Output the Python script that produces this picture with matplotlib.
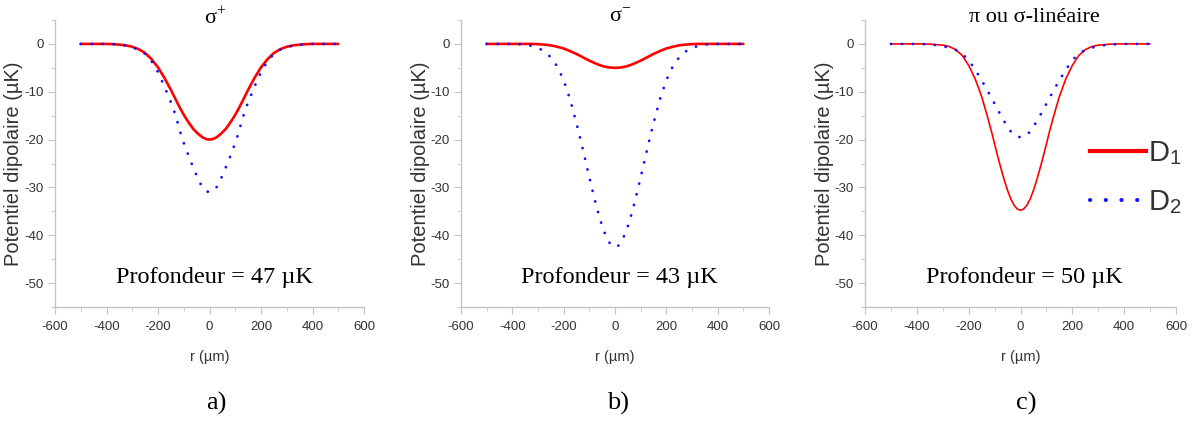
import numpy as np
import matplotlib.pyplot as plt
from matplotlib.lines import Line2D

plt.rcParams['font.family'] = ['Liberation Sans', 'DejaVu Sans']
plt.rcParams['mathtext.fontset'] = 'stix'
plt.rcParams['axes.unicode_minus'] = False

#%%
# Data (r in um, potential in uK)
# finer sampling near the bottom of the wells

r = [-500, -475, -450, -425, -400, -375, -350, -325, -300, -275, -250, -225, -200, -175,
     -150, -137.5, -125, -112.5, -100, -87.5, -75, -62.5, -50, -37.5, -25, -12.5,
     0,
     12.5, 25, 37.5, 50, 62.5, 75, 87.5, 100, 112.5, 125, 137.5, 150,
     175, 200, 225, 250, 275, 300, 325, 350, 375, 400, 425, 450, 475, 500]

# a) sigma+
a_D1 = [0, 0, 0, 0, 0, -0.05, -0.15, -0.3, -0.6, -1.1, -1.9, -3.2, -4.9, -7.1,
        -9.6, -10.95, -12.3, -13.6, -14.8, -15.9, -16.9, -17.8, -18.5, -19.1, -19.6, -19.9,
        -20.0,
        -19.9, -19.6, -19.1, -18.5, -17.8, -16.9, -15.9, -14.8, -13.6, -12.3, -10.95, -9.6,
        -7.1, -4.9, -3.2, -1.9, -1.1, -0.6, -0.3, -0.15, -0.05, 0, 0, 0, 0, 0]
a_D2 = [0, 0, 0, 0, 0, -0.05, -0.15, -0.35, -0.7, -1.2, -2.1, -3.6, -5.9, -8.9,
        -12.2, -14.0, -16.2, -18.6, -20.7, -22.5, -24.3, -25.9, -27.5, -29.0, -30.2, -30.8,
        -31.0,
        -30.8, -30.2, -29.0, -27.5, -25.9, -24.3, -22.5, -20.7, -18.6, -16.2, -14.0, -12.2,
        -8.9, -5.9, -3.6, -2.1, -1.2, -0.7, -0.35, -0.15, -0.05, 0, 0, 0, 0, 0]

# b) sigma-
b_D1 = [0, 0, 0, 0, 0, 0, 0, 0, -0.05, -0.15, -0.3, -0.6, -0.95, -1.5,
        -2.1, -2.45, -2.8, -3.15, -3.5, -3.8, -4.1, -4.37, -4.6, -4.77, -4.9, -4.97,
        -5.0,
        -4.97, -4.9, -4.77, -4.6, -4.37, -4.1, -3.8, -3.5, -3.15, -2.8, -2.45, -2.1,
        -1.5, -0.95, -0.6, -0.3, -0.15, -0.05, 0, 0, 0, 0, 0, 0, 0, 0]
b_D2 = [0, 0, 0, 0, 0, -0.05, -0.15, -0.4, -0.8, -1.6, -2.8, -4.7, -7.6, -11.6,
        -16.6, -19.3, -22.1, -25.0, -27.9, -30.7, -33.4, -35.9, -38.1, -39.9, -41.3, -42.2,
        -42.5,
        -42.2, -41.3, -39.9, -38.1, -35.9, -33.4, -30.7, -27.9, -25.0, -22.1, -19.3, -16.6,
        -11.6, -7.6, -4.7, -2.8, -1.6, -0.8, -0.4, -0.15, -0.05, 0, 0, 0, 0, 0]

# c) pi / sigma-lineaire
c_D1 = [0, 0, 0, 0, 0, 0, -0.05, -0.15, -0.25, -0.55, -1.2, -2.4, -4.5, -7.3,
        -11.0, -13.3, -15.7, -18.2, -20.9, -23.6, -26.1, -28.5, -30.6, -32.4, -33.7, -34.5,
        -34.8,
        -34.5, -33.7, -32.4, -30.6, -28.5, -26.1, -23.6, -20.9, -18.2, -15.7, -13.3, -11.0,
        -7.3, -4.5, -2.4, -1.2, -0.55, -0.25, -0.15, -0.05, 0, 0, 0, 0, 0, 0]
c_D2 = [0, 0, 0, 0, 0, -0.05, -0.1, -0.25, -0.45, -0.8, -1.25, -2.05, -3.4, -5.4,
        -7.6, -8.8, -10.0, -11.2, -12.5, -13.8, -15.0, -16.2, -17.3, -18.3, -19.0, -19.4,
        -19.5,
        -19.4, -19.0, -18.3, -17.3, -16.2, -15.0, -13.8, -12.5, -11.2, -10.0, -8.8, -7.6,
        -5.4, -3.4, -2.05, -1.25, -0.8, -0.45, -0.25, -0.1, -0.05, 0, 0, 0, 0, 0]

titles = [r'σ$^{\mathregular{+}}$', r'σ$^{\mathregular{-}}$', 'π ou σ-linéaire']
depths = ['Profondeur = 47 µK', 'Profondeur = 43 µK', 'Profondeur = 50 µK']
letters = ['a)', 'b)', 'c)']
series = [(a_D1, a_D2), (b_D1, b_D2), (c_D1, c_D2)]
red_lw = [1.9, 1.9, 1.2]

#%%
# Figure

W, H = 1194, 421
fig = plt.figure(figsize=(W / 100, H / 100), dpi=100)

lefts = [55, 461, 865]
widths = [309, 308, 311]
title_x = [215, 620, 1034]
text_x = [214, 619, 1024]
letter_x = [216, 618, 1026]
top_px, bot_px = 20, 307

grey = '#c4c4c4'
txt = '#333333'
serif = ['Liberation Serif', 'DejaVu Serif']

for i in range(3):
    ax = fig.add_axes([lefts[i] / W, 1 - bot_px / H, widths[i] / W, (bot_px - top_px) / H])
    d1, d2 = series[i]

    ax.plot(r, d1, color='#ff0000', lw=red_lw[i], solid_capstyle='round', zorder=3)
    ax.plot(r, d2, color='#1010ff', lw=2.0, linestyle=(0, (0.05, 3.9)),
            dash_capstyle='round', zorder=4)

    ax.set_xlim(-600, 600)
    ax.set_ylim(-55, 5)
    ax.set_xticks(np.arange(-600, 601, 200))
    ax.set_xticks(np.arange(-500, 600, 100), minor=True)
    ax.set_yticks(np.arange(-50, 1, 10))
    ax.set_yticks(np.arange(-55, 6, 5), minor=True)

    for s in ['top', 'right']:
        ax.spines[s].set_visible(False)
    for s in ['left', 'bottom']:
        ax.spines[s].set_color(grey)
        ax.spines[s].set_linewidth(1.0)

    ax.tick_params(which='major', length=5, color=grey, labelsize=9.5, labelcolor=txt)
    ax.tick_params(axis='x', which='major', pad=5)
    ax.tick_params(axis='y', which='major', pad=3)
    ax.tick_params(which='minor', length=3, color=grey)

    ax.set_xlabel('r (µm)', fontsize=10.5, color=txt, labelpad=12)
    ax.set_ylabel('Potentiel dipolaire (µK)', fontsize=14.5, color=txt, va='center')
    ax.yaxis.set_label_coords(-41 / widths[i], 0.5)

    fig.text(title_x[i] / W, 1 - 18 / H, titles[i], ha='center', va='center', fontsize=16, family=serif)
    fig.text(text_x[i] / W, 1 - 277 / H, depths[i], ha='center', va='center', fontsize=17.5, family=serif)
    fig.text(letter_x[i] / W, 1 - 403 / H, letters[i], ha='center', va='center', fontsize=19, family=serif)

# legend (panel c)
handles = [Line2D([], [], color='#ff0000', lw=3.0),
           Line2D([], [], color='#1010ff', lw=2.9, linestyle=(0, (0.05, 3.85)), dash_capstyle='round')]
fig.legend(handles, [r'D$_\mathregular{1}$', r'D$_\mathregular{2}$'],
           loc='upper left', bbox_to_anchor=(1075 / W, 1 - 125 / H),
           frameon=False, fontsize=21, handlelength=1.95, handletextpad=0.05,
           labelspacing=0.7, borderpad=0, labelcolor=txt)

fig.savefig('out.png', dpi=100)
